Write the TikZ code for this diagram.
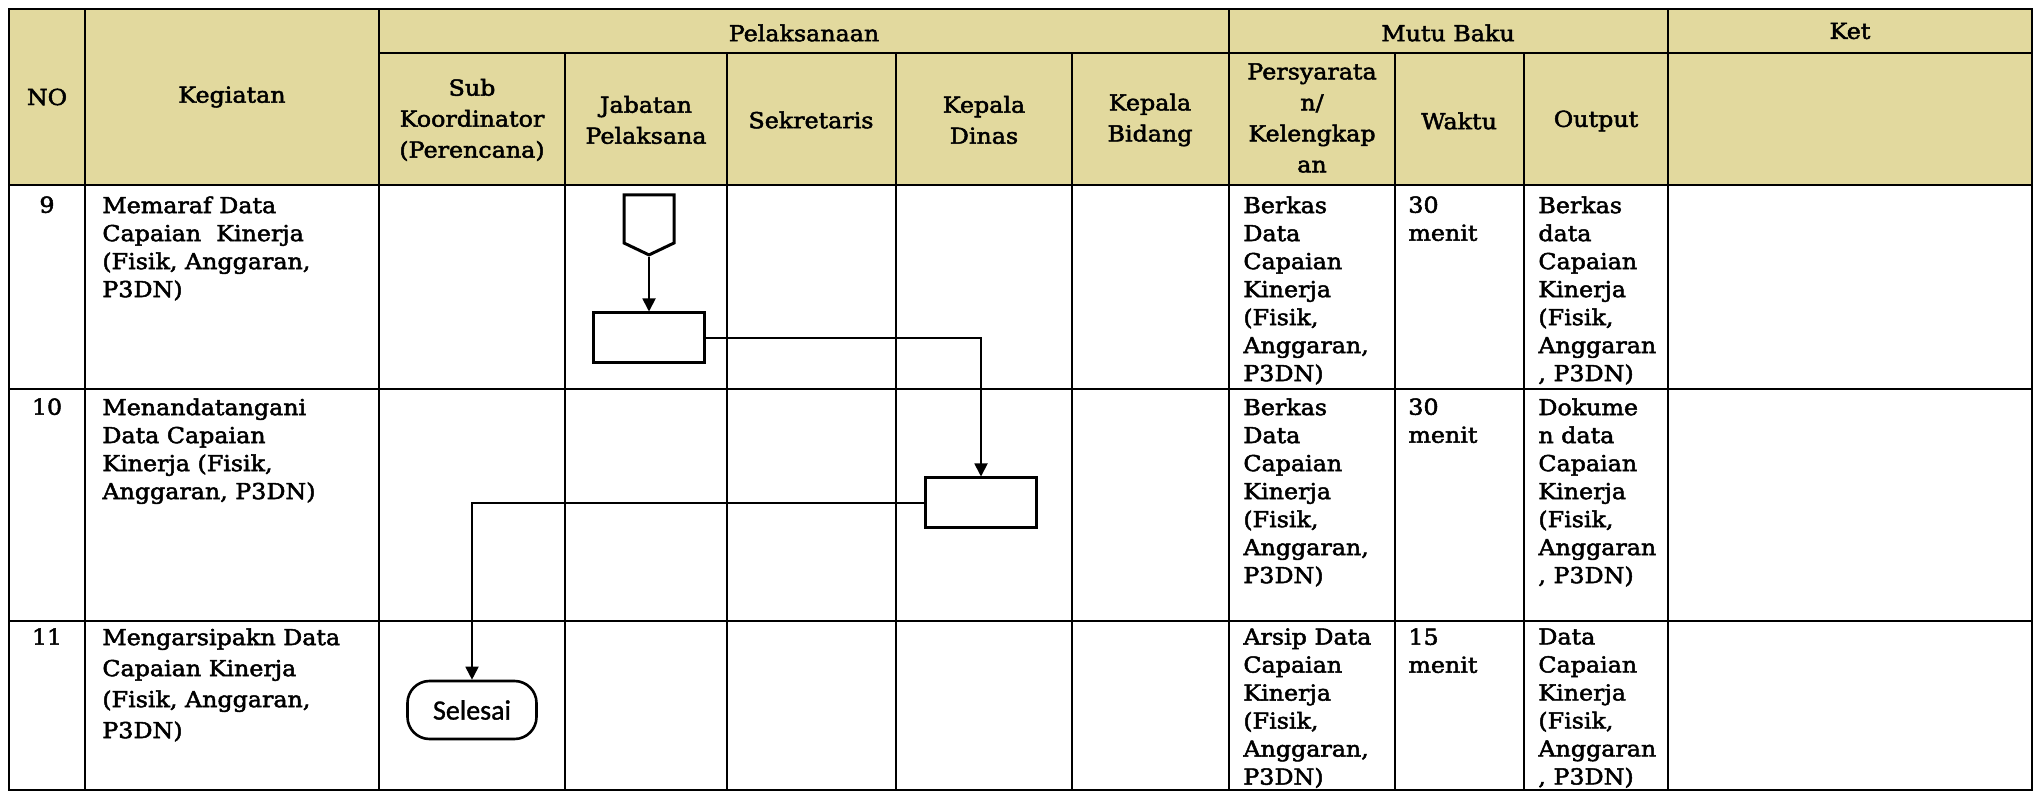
\documentclass[tikz,border=0pt]{standalone}
\usepackage{fontspec}
\setmainfont{DejaVu Serif}[FakeStretch=1.08, FakeBold=2.2]
\newfontfamily\selesaifont{Carlito}[FakeBold=1.2]
\usepackage{xcolor}
\usepackage{tikz}
\usetikzlibrary{arrows.meta,shapes.symbols}
\definecolor{headkhaki}{HTML}{E2D99E}

\newcommand{\isifont}{\fontsize{11}{14}\selectfont}
\newcommand{\judulfont}{\fontsize{11}{15.5}\selectfont}

\tikzset{
  garis/.style={line width=1.2pt},
  judul/.style={align=center, inner sep=0pt, font=\judulfont},
  isi/.style={anchor=north west, align=left, inner sep=0pt, font=\isifont},
  nomor/.style={anchor=north, inner sep=0pt, font=\isifont},
  proses/.style={draw, line width=1.5pt, minimum width=55.5pt, minimum height=25pt, inner sep=0pt},
  terminal/.style={draw, line width=1.3pt, rounded corners=11pt, minimum width=64.5pt,
                   minimum height=29pt, inner sep=0pt, font=\selesaifont\fontsize{14}{15}\selectfont},
  offpage/.style={draw, line width=1.5pt, signal, signal to=south, signal from=nowhere,
                  signal pointer angle=129, minimum width=25pt, minimum height=24pt, inner sep=0pt},
  alur/.style={line width=0.9pt, -{Triangle[length=6.5pt,width=6.5pt]}}
}

\begin{document}
\begin{tikzpicture}[x=0.5pt, y=-0.5pt]
  \useasboundingbox (0,0) rectangle (2036,796);

  % header
  \fill[headkhaki] (9,9) rectangle (2032,185);
  \draw[garis] (9,9) rectangle (2032,790);
  \draw[garis] (379,53) -- (2032,53);
  \draw[garis] (9,185) -- (2032,185);
  \draw[garis] (9,389) -- (2032,389);
  \draw[garis] (9,621) -- (2032,621);
  \draw[garis] (85,9) -- (85,790);
  \draw[garis] (379,9) -- (379,790);
  \draw[garis] (1229,9) -- (1229,790);
  \draw[garis] (1668,9) -- (1668,790);
  \draw[garis] (565,53) -- (565,790);
  \draw[garis] (727,53) -- (727,790);
  \draw[garis] (896,53) -- (896,790);
  \draw[garis] (1072,53) -- (1072,790);
  \draw[garis] (1395,53) -- (1395,790);
  \draw[garis] (1524,53) -- (1524,790);

  \node[judul] (hno) at (47,97) {NO};
  \node[judul] (hkeg) at (232,97) {Kegiatan};
  \node[judul] (hpel) at (804,33) {Pelaksanaan};
  \node[judul] (hmutu) at (1448,33) {Mutu Baku};
  \node[judul] (hket) at (1850,31) {Ket};
  \node[judul] (hsub) at (472,120) {Sub\\Koordinator\\(Perencana)};
  \node[judul] (hjab) at (646,120) {Jabatan\\Pelaksana};
  \node[judul] (hsek) at (811,120) {Sekretaris};
  \node[judul] (hkadis) at (984,120) {Kepala\\Dinas};
  \node[judul] (hkabid) at (1150,120) {Kepala\\Bidang};
  \node[judul] (hsyarat) at (1312,118) {Persyarata\\n/\\Kelengkap\\an};
  \node[judul] (hwaktu) at (1459,121) {Waktu};
  \node[judul] (hout) at (1596,121) {Output};

  % baris 9
  \node[nomor] (no9) at (47,196) {9};
  \node[isi] (keg9) at (102,196) {Memaraf Data\\Capaian~ Kinerja\\(Fisik, Anggaran,\\P3DN)};
  \node[isi] (syarat9) at (1243,196) {Berkas\\Data\\Capaian\\Kinerja\\(Fisik,\\Anggaran,\\P3DN)};
  \node[isi] (waktu9) at (1408,196) {30\\menit};
  \node[isi] (out9) at (1538,196) {Berkas\\data\\Capaian\\Kinerja\\(Fisik,\\Anggaran\\, P3DN)};

  % baris 10
  \node[nomor] (no10) at (47,398) {10};
  \node[isi] (keg10) at (102,398) {Menandatangani\\Data Capaian\\Kinerja (Fisik,\\Anggaran, P3DN)};
  \node[isi] (syarat10) at (1243,398) {Berkas\\Data\\Capaian\\Kinerja\\(Fisik,\\Anggaran,\\P3DN)};
  \node[isi] (waktu10) at (1408,398) {30\\menit};
  \node[isi] (out10) at (1538,398) {Dokume\\n data\\Capaian\\Kinerja\\(Fisik,\\Anggaran\\, P3DN)};

  % baris 11
  \node[nomor] (no11) at (47,628) {11};
  \node[isi, font=\fontsize{11}{15.5}\selectfont] (keg11) at (102,628) {Mengarsipakn Data\\Capaian Kinerja\\(Fisik, Anggaran,\\P3DN)};
  \node[isi] (syarat11) at (1243,628) {Arsip Data\\Capaian\\Kinerja\\(Fisik,\\Anggaran,\\P3DN)};
  \node[isi] (waktu11) at (1408,628) {15\\menit};
  \node[isi] (out11) at (1538,628) {Data\\Capaian\\Kinerja\\(Fisik,\\Anggaran\\, P3DN)};

  % alur
  \node[offpage] (opc) at (649,219) {};
  \node[proses] (paraf) at (649,338) {};
  \node[proses] (ttd) at (981,503) {};
  \node[terminal] (selesai) at (472,710) {Selesai};

  \draw[alur] (opc.south) -- (paraf.north);
  \draw[alur] (paraf.east) -| (ttd.north);
  \draw[alur] (ttd.west) -| (selesai.north);
\end{tikzpicture}
\end{document}
